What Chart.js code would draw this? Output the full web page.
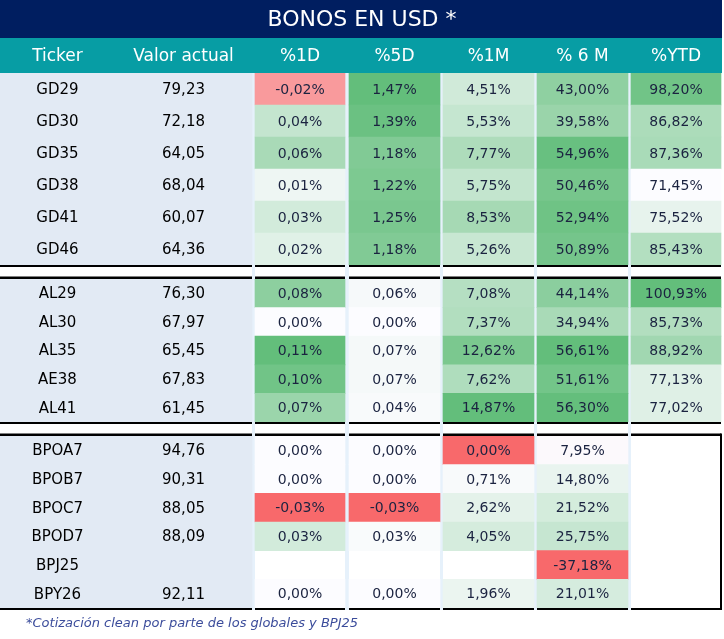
<!DOCTYPE html>
<html>
<head>
<meta charset="utf-8">
<script src="https://cdn.jsdelivr.net/npm/chart.js@4.4.1/dist/chart.umd.min.js"></script>
<style>
  html, body { margin: 0; padding: 0; background: #fff; }
  #wrap { position: relative; width: 724px; height: 639px; overflow: hidden; }
  #wrap canvas { position: absolute; left: 0; }
</style>
</head>
<body>
<div id="wrap">
  <canvas id="globales" width="724" height="267" style="top:0px"></canvas>
  <canvas id="bonares" width="724" height="157" style="top:267px"></canvas>
  <canvas id="bopreales" width="724" height="215" style="top:424px"></canvas>
</div>
<script>
// ---- data ----
const title = "BONOS EN USD *";
const columnLabels = ["Ticker", "Valor actual", "%1D", "%5D", "%1M", "% 6 M", "%YTD"];
const footnote = "*Cotización clean por parte de los globales y BPJ25";

const tickersGlobales = ["GD29", "GD30", "GD35", "GD38", "GD41", "GD46"];
const tickersBonares = ["AL29", "AL30", "AL35", "AE38", "AL41"];
const tickersBopreales = ["BPOA7", "BPOB7", "BPOC7", "BPOD7", "BPJ25", "BPY26"];

const valorActual = [79.23, 72.18, 64.05, 68.04, 60.07, 64.36,
  76.30, 67.97, 65.45, 67.83, 61.45,
  94.76, 90.31, 88.05, 88.09, null, 92.11];
const pct1D = [-0.02, 0.04, 0.06, 0.01, 0.03, 0.02,
  0.08, 0.00, 0.11, 0.10, 0.07,
  0.00, 0.00, -0.03, 0.03, null, 0.00];
const pct5D = [1.47, 1.39, 1.18, 1.22, 1.25, 1.18,
  0.06, 0.00, 0.07, 0.07, 0.04,
  0.00, 0.00, -0.03, 0.03, null, 0.00];
const pct1M = [4.51, 5.53, 7.77, 5.75, 8.53, 5.26,
  7.08, 7.37, 12.62, 7.62, 14.87,
  0.00, 0.71, 2.62, 4.05, null, 1.96];
const pct6M = [43.00, 39.58, 54.96, 50.46, 52.94, 50.89,
  44.14, 34.94, 56.61, 51.61, 56.30,
  7.95, 14.80, 21.52, 25.75, -37.18, 21.01];
const pctYTD = [98.20, 86.82, 87.36, 71.45, 75.52, 85.43,
  100.93, 85.73, 88.92, 77.13, 77.02,
  null, null, null, null, null, null];

// ---- layout / style ----
const FONT = "'DejaVu Sans', sans-serif";
const NAVY = "#001E60";
const TEAL = "#079DA4";
const TICKER_BG = "#E2EAF4";
const GAP_BG = "#E6F1FB";
const WHITE = [252, 252, 255], GREEN = [99, 190, 123], RED = [248, 105, 107];

// column edges on the x scale (0..724)
const columns = [
  { x0: 0, x1: 115 }, { x0: 115, x1: 252 },
  { x0: 255, x1: 345 }, { x0: 349, x1: 440 }, { x0: 443, x1: 534 },
  { x0: 537, x1: 628 }, { x0: 631, x1: 721 }
];
// value at which the colour scale is white, per % column (null = column minimum)
const whiteAt = [0, 0, 0.3, 9, null];

const tickers = tickersGlobales.concat(tickersBonares, tickersBopreales);
const pctColumns = [pct1D, pct5D, pct1M, pct6M, pctYTD];

function mix(a, b, t) {
  t = Math.max(0, Math.min(1, t));
  return "rgb(" + a.map((c, i) => Math.round(c + (b[i] - c) * t)).join(",") + ")";
}

function colourColumn(values, mid) {
  const vals = values.filter((v) => v != null);
  const lo = Math.min(...vals), hi = Math.max(...vals);
  if (mid == null) mid = lo;
  return values.map((v) => {
    if (v == null) return "rgba(0,0,0,0)";
    if (v >= mid) return mix(WHITE, GREEN, hi > mid ? (v - mid) / (hi - mid) : 0);
    return mix(WHITE, RED, (mid - v) / (mid - lo));
  });
}

const cellColours = pctColumns.map((vals, i) => colourColumn(vals, whiteAt[i]));

const fmt = (v, pct) => (v == null ? "" : v.toFixed(2).replace(".", ",") + (pct ? "%" : ""));

function buildDatasets(start, count) {
  const rows = [];
  for (let k = 0; k < count; k++) rows.push(start + k);
  const base = { barPercentage: 1, categoryPercentage: 1, grouped: false, borderWidth: 0 };
  const sets = [
    Object.assign({}, base, {
      data: rows.map(() => [columns[0].x0, columns[0].x1]),
      backgroundColor: TICKER_BG,
      texts: rows.map((r) => tickers[r]),
      textColor: "#000", textFont: "15px " + FONT
    }),
    Object.assign({}, base, {
      data: rows.map(() => [columns[1].x0, columns[1].x1]),
      backgroundColor: TICKER_BG,
      texts: rows.map((r) => fmt(valorActual[r], false)),
      textColor: "#000", textFont: "15px " + FONT
    })
  ];
  pctColumns.forEach((vals, c) => {
    const col = columns[c + 2];
    sets.push(Object.assign({}, base, {
      data: rows.map((r) => (vals[r] == null ? null : [col.x0, col.x1])),
      backgroundColor: rows.map((r) => cellColours[c][r]),
      texts: rows.map((r) => fmt(vals[r], true)),
      textColor: "#1B2340", textFont: "14px " + FONT
    }));
  });
  return sets;
}

// line segments: ticker + valor merged, then each % column
const segments = [[columns[0].x0, columns[1].x1]].concat(columns.slice(2).map((c) => [c.x0, c.x1]));

const tableDecor = {
  id: "tableDecor",
  beforeDatasetsDraw(chart, args, opts) {
    const { ctx, chartArea, scales: { x } } = chart;
    ctx.save();
    // column gaps
    const top = opts.stripTop === "area" ? chartArea.top : 0;
    const bottom = opts.stripBottom === "area" ? chartArea.bottom + 2 : chart.height;
    ctx.fillStyle = GAP_BG;
    for (let i = 2; i < columns.length; i++) {
      const a = x.getPixelForValue(columns[i - 1].x1);
      const b = x.getPixelForValue(columns[i].x0);
      ctx.fillRect(a, top, b - a, bottom - top);
    }
    if (opts.header) {
      const right = x.getPixelForValue(722);
      ctx.fillStyle = NAVY;
      ctx.fillRect(0, 0, right, 38);
      ctx.fillStyle = TEAL;
      ctx.fillRect(0, 38, right, chartArea.top - 38);
      ctx.fillStyle = "#fff";
      ctx.textAlign = "center";
      ctx.textBaseline = "middle";
      ctx.font = "22px " + FONT;
      ctx.fillText(title, x.getPixelForValue(362), 20);
      ctx.font = "17px " + FONT;
      columns.forEach((c, i) => {
        ctx.fillText(columnLabels[i], x.getPixelForValue((c.x0 + c.x1) / 2), (38 + chartArea.top) / 2 + 1);
      });
    }
    ctx.restore();
  },
  afterDatasetsDraw(chart, args, opts) {
    const { ctx, chartArea, scales: { x } } = chart;
    ctx.save();
    ctx.textAlign = "center";
    ctx.textBaseline = "middle";
    chart.data.datasets.forEach((ds, i) => {
      const meta = chart.getDatasetMeta(i);
      ctx.fillStyle = ds.textColor;
      ctx.font = ds.textFont;
      meta.data.forEach((bar, j) => {
        const t = ds.texts[j];
        if (!t) return;
        const p = bar.getProps(["x", "y", "base"], true);
        ctx.fillText(t, (p.x + p.base) / 2, p.y + 1);
      });
    });
    // black borders
    ctx.fillStyle = "#000";
    const hLine = (y, h) => segments.forEach(([a, b]) => {
      const pa = x.getPixelForValue(a), pb = x.getPixelForValue(b);
      ctx.fillRect(pa, y, pb - pa, h);
    });
    if (opts.topLine) hLine(chartArea.top - 2.5, 2.5);
    hLine(chartArea.bottom, 2);
    if (opts.rightBorder) {
      const px = x.getPixelForValue(720);
      ctx.fillRect(px, chartArea.top - 2.5, 2, chartArea.bottom - chartArea.top + 4.5);
    }
    if (opts.note) {
      ctx.fillStyle = "#3B4C9B";
      ctx.font = "italic 13px " + FONT;
      ctx.textAlign = "left";
      ctx.fillText(opts.note, x.getPixelForValue(26), chartArea.bottom + 16);
    }
    ctx.restore();
  }
};

function makeTable(id, start, labels, padding, decor) {
  return new Chart(document.getElementById(id), {
    type: "bar",
    data: { labels, datasets: buildDatasets(start, labels.length) },
    options: {
      indexAxis: "y",
      responsive: false,
      animation: false,
      layout: { padding: Object.assign({ left: 0, right: 0 }, padding) },
      scales: {
        x: { type: "linear", min: 0, max: 724, display: false },
        y: { display: false }
      },
      plugins: {
        legend: { display: false },
        tooltip: { enabled: false },
        tableDecor: decor
      }
    },
    plugins: [tableDecor]
  });
}

makeTable("globales", 0, tickersGlobales, { top: 73, bottom: 2 },
  { header: true, stripTop: "area", stripBottom: "canvas" });
makeTable("bonares", tickersGlobales.length, tickersBonares, { top: 12, bottom: 2 },
  { topLine: true, stripTop: "canvas", stripBottom: "canvas" });
makeTable("bopreales", tickersGlobales.length + tickersBonares.length, tickersBopreales, { top: 12, bottom: 31 },
  { topLine: true, rightBorder: true, note: footnote, stripTop: "canvas", stripBottom: "area" });
</script>
</body>
</html>
